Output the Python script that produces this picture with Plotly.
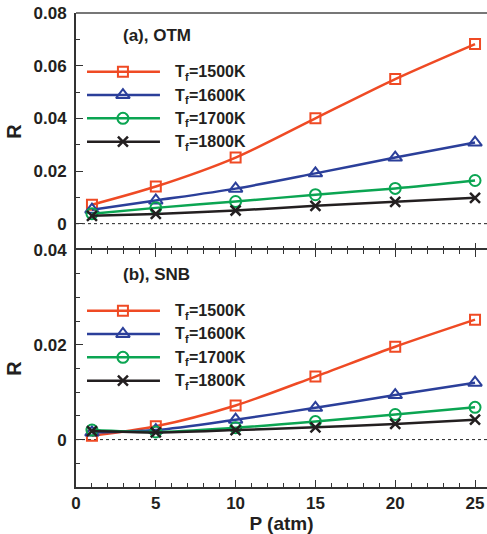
import plotly.graph_objects as go

# ---------------- data ----------------
pressure = [1, 5, 10, 15, 20, 25]
temps = ["1500K", "1600K", "1700K", "1800K"]

otm_1500 = [0.0072, 0.0141, 0.0251, 0.0400, 0.0549, 0.0682]
otm_1600 = [0.0053, 0.0088, 0.0133, 0.0191, 0.0251, 0.0308]
otm_1700 = [0.0038, 0.0060, 0.0084, 0.0110, 0.0134, 0.0164]
otm_1800 = [0.0030, 0.0037, 0.0050, 0.0068, 0.0083, 0.0098]

snb_1500 = [0.0008, 0.0028, 0.0072, 0.0133, 0.0196, 0.0253]
snb_1600 = [0.0015, 0.0020, 0.0042, 0.0067, 0.0094, 0.0120]
snb_1700 = [0.0020, 0.0016, 0.0025, 0.0038, 0.0053, 0.0068]
snb_1800 = [0.0018, 0.0015, 0.0020, 0.0026, 0.0033, 0.0042]

x_ticks = [0, 5, 10, 15, 20, 25]
x_labels = ["0", "5", "10", "15", "20", "25"]
y_ticks_top = [0, 0.02, 0.04, 0.06, 0.08]
y_labels_top = ["0", "0.02", "0.04", "0.06", "0.08"]
y_ticks_bot = [0, 0.02, 0.04]
y_labels_bot = ["0", "0.02", "0.04"]

# ---------------- styles ----------------
colors = ["#EF4A24", "#2B3F9A", "#0BA552", "#231F20"]
symbols = ["square-open", "triangle-up-open", "circle-open", "x-thin"]
msizes = [10, 12, 11, 10]
FONT = "Liberation Sans, Arial, sans-serif"
AXC = "#333333"
TXT = "#231F20"


def bold(lst):
    return ["<b>" + s + "</b>" for s in lst]


fig = go.Figure()

panels = [
    ("x", "y", [otm_1500, otm_1600, otm_1700, otm_1800]),
    ("x2", "y2", [snb_1500, snb_1600, snb_1700, snb_1800]),
]

for xa, ya, series in panels:
    for i, vals in enumerate(series):
        fig.add_trace(go.Scatter(
            x=pressure, y=vals, xaxis=xa, yaxis=ya,
            mode="lines+markers",
            line=dict(color=colors[i], width=2.5, shape="spline", smoothing=0.8),
            marker=dict(symbol=symbols[i], size=msizes[i], color=colors[i],
                        line=dict(color=colors[i], width=2 if i < 3 else 2.5)),
            showlegend=False, hoverinfo="skip",
        ))

# ---------------- manual legends ----------------
XR = [0, 25.75]
PX = (XR[1] - XR[0]) / 411.0          # data units per pixel (plot width 411 px)
LEG_X0, LEG_XM, LEG_X1, LEG_XT = 0.69, 2.94, 5.26, 6.1
legend_cfg = [
    ("x", "y", 0.0577, 0.00885, 0.0714, "(a), OTM", 2633.0),
    ("x2", "y2", 0.0272, 0.00492, 0.0348, "(b), SNB", 4740.0),
]
for xa, ya, y0, step, ty, title, ypx in legend_cfg:
    for i, t in enumerate(temps):
        yy = y0 - i * step
        fig.add_trace(go.Scatter(
            x=[LEG_X0, LEG_X1], y=[yy, yy], xaxis=xa, yaxis=ya, mode="lines",
            line=dict(color=colors[i], width=2.5), showlegend=False, hoverinfo="skip"))
        fig.add_trace(go.Scatter(
            x=[LEG_XM], y=[yy], xaxis=xa, yaxis=ya, mode="markers",
            marker=dict(symbol=symbols[i], size=msizes[i], color=colors[i],
                        line=dict(color=colors[i], width=2 if i < 3 else 2.5)),
            showlegend=False, hoverinfo="skip"))
        # "T" + subscript "f" + "=1500K" as three plain texts
        fig.add_annotation(
            x=LEG_XT, y=yy, xref=xa, yref=ya, xanchor="left", yanchor="middle",
            text="<b>T</b>", showarrow=False, font=dict(family=FONT, size=16, color=TXT))
        fig.add_annotation(
            x=LEG_XT + 9.6 * PX, y=yy - 5 / ypx, xref=xa, yref=ya, xanchor="left", yanchor="middle",
            text="<b>f</b>", showarrow=False, font=dict(family=FONT, size=11, color=TXT))
        fig.add_annotation(
            x=LEG_XT + 13.2 * PX, y=yy, xref=xa, yref=ya, xanchor="left", yanchor="middle",
            text="<b>=" + t + "</b>", showarrow=False, font=dict(family=FONT, size=16, color=TXT))
    fig.add_annotation(
        x=2.8, y=ty, xref=xa, yref=ya, xanchor="left", yanchor="middle",
        text="<b>" + title + "</b>", showarrow=False,
        font=dict(family=FONT, size=17, color=TXT))

# zero reference dotted lines
for xa, ya in [("x", "y"), ("x2", "y2")]:
    fig.add_shape(type="line", xref=xa, yref=ya, x0=XR[0], x1=XR[1], y0=0, y1=0,
                  line=dict(color="#222222", width=1, dash="dot"), layer="below")

tickfont = dict(family=FONT, size=17, color=TXT)
minor_x = dict(dtick=1, tick0=0, ticks="inside", ticklen=4, tickcolor=AXC, showgrid=False)
common_x = dict(range=XR, linecolor=AXC, linewidth=2,
                ticks="inside", ticklen=7, tickwidth=1.2, tickcolor=AXC,
                tickvals=x_ticks, ticktext=bold(x_labels), showgrid=False, zeroline=False,
                minor=minor_x, tickfont=tickfont)
common_y = dict(showline=True, linecolor=AXC, linewidth=2, mirror=False,
                ticks="inside", ticklen=7, tickwidth=1.2, tickcolor=AXC,
                showgrid=False, zeroline=False, tickfont=tickfont,
                ticklabelstandoff=4,
                title=dict(text="<b>R</b>", font=dict(family=FONT, size=20, color=TXT), standoff=7))

fig.update_layout(
    width=487, height=534,
    margin=dict(l=76, r=0, t=13, b=47),
    paper_bgcolor="white", plot_bgcolor="white",
    showlegend=False,
    xaxis=dict(common_x, domain=[0, 1], anchor="y", showticklabels=False,
               showline=False, mirror=False),
    yaxis=dict(common_y, domain=[0.5, 1], anchor="x", range=[-0.01, 0.08],
               tickvals=y_ticks_top, ticktext=bold(y_labels_top),
               minor=dict(dtick=0.01, tick0=0, ticks="inside", ticklen=4, tickcolor=AXC, showgrid=False)),
    xaxis2=dict(common_x, domain=[0, 1], anchor="y2", showline=True, mirror="ticks",
                title=dict(text="<b>P (atm)</b>", font=dict(family=FONT, size=19, color=TXT), standoff=6)),
    yaxis2=dict(common_y, domain=[0, 0.5], anchor="x2", range=[-0.01, 0.04],
                tickvals=y_ticks_bot, ticktext=bold(y_labels_bot),
                minor=dict(dtick=0.005, tick0=0, ticks="inside", ticklen=4, tickcolor=AXC, showgrid=False)),
)

# gray top border of the upper panel
fig.add_shape(type="line", xref="paper", yref="paper", x0=0, x1=1, y0=1, y1=1,
              line=dict(color="#777777", width=2))

fig.write_html("out.html")
